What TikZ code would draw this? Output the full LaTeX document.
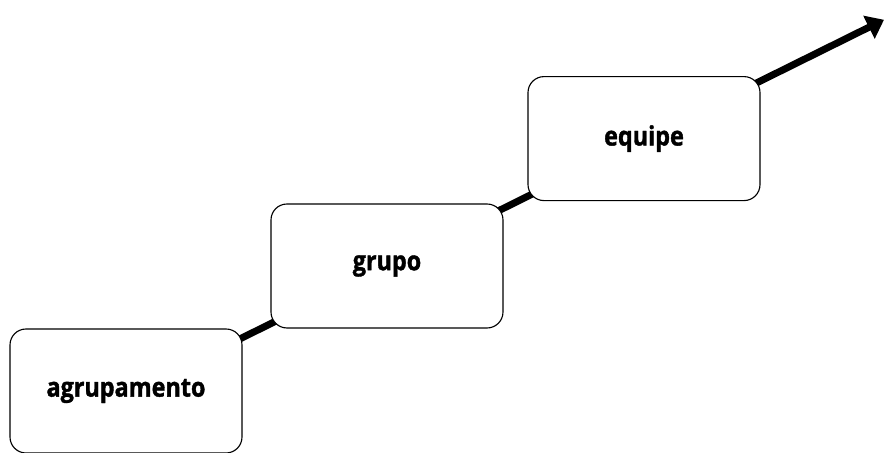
\documentclass[tikz,border=0pt]{standalone}
\usepackage{fontspec}
\setmainfont{Open Sans}[BoldFeatures={FakeStretch=0.875,FakeBold=1.4}]
\usetikzlibrary{arrows.meta,backgrounds,calc}
\begin{document}
\begin{tikzpicture}[
        etapa/.style={
            rectangle,
            rounded corners=0.4cm,
            draw,
            fill=white,
            line width=0.8pt,
            minimum width=5.8cm,
            minimum height=3.1cm,
            font=\fontsize{19}{22}\selectfont\bfseries
        },
        seta/.style={
            line width=5pt,
            -{Triangle[length=0.42cm,width=0.62cm]}
        }
    ]
    \useasboundingbox (0,0) rectangle (22.1,11.325);

    % Etapas
    \node[etapa] (agrupamento) at (3.15,1.55) {agrupamento};
    \node[etapa] (grupo) at (9.675,4.675) {grupo};
    \node[etapa] (equipe) at (16.1,7.86) {equipe};
    \coordinate (fim) at (22.1,10.83);

    % Seta
    \begin{scope}[on background layer]
    \draw[seta] ($(grupo.center)!-0.6!(equipe.center)$) -- (fim);
    \end{scope}

\end{tikzpicture}
\end{document}
